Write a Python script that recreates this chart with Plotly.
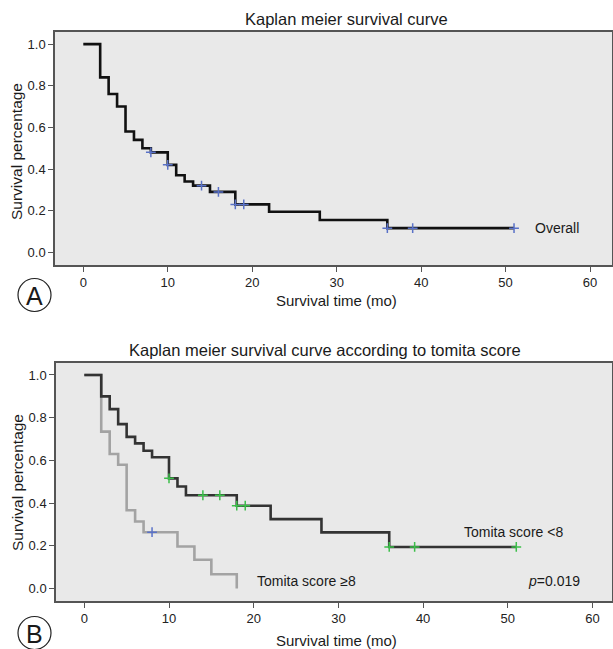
import plotly.graph_objects as go

# ---------------- data ----------------
overall_t = [0, 2, 3, 4, 5, 6, 7, 8, 10, 11, 12, 13, 15, 18, 22, 28, 36, 51]
overall_s = [1.0, 0.84, 0.76, 0.70, 0.58, 0.54, 0.50, 0.48, 0.42, 0.37, 0.34, 0.32, 0.29, 0.23, 0.195, 0.155, 0.116, 0.116]
overall_cens = [8, 10, 14, 16, 18, 19, 36, 39, 51]

low_t = [0, 2, 3, 4, 5, 6, 7, 8, 10, 11, 12, 18, 22, 28, 36, 51]
low_s = [1.0, 0.90, 0.84, 0.77, 0.71, 0.68, 0.645, 0.615, 0.516, 0.478, 0.437, 0.388, 0.325, 0.263, 0.195, 0.195]
low_cens = [10, 14, 16, 18, 19, 36, 39, 51]

high_t = [0, 2, 3, 4, 5, 6, 7, 11, 13, 15, 18]
high_s = [1.0, 0.735, 0.63, 0.58, 0.367, 0.314, 0.264, 0.197, 0.135, 0.067, 0.0]
high_cens = [8]

x_ticks = [0, 10, 20, 30, 40, 50, 60]
y_ticks = [0.0, 0.2, 0.4, 0.6, 0.8, 1.0]
y_tick_text = ["0.0", "0.2", "0.4", "0.6", "0.8", "1.0"]


def step_value(ts, ss, t):
    v = ss[0]
    for ti, si in zip(ts, ss):
        if ti <= t:
            v = si
    return v


W, H = 613, 649
FONT = "Liberation Sans, Arial, sans-serif"
BLUE = "#5a72c8"
GREEN = "#3cbf4a"

fig = go.Figure()

# Panel A
fig.add_trace(go.Scatter(x=overall_t, y=overall_s, mode="lines", line_shape="hv",
                         line=dict(color="#111111", width=2.6), xaxis="x", yaxis="y",
                         showlegend=False, hoverinfo="skip"))
fig.add_trace(go.Scatter(x=overall_cens, y=[step_value(overall_t, overall_s, t) for t in overall_cens],
                         mode="markers", marker=dict(symbol="cross-thin", size=7,
                                                     line=dict(color=BLUE, width=1.5)),
                         xaxis="x", yaxis="y", showlegend=False))

# Panel B
fig.add_trace(go.Scatter(x=high_t, y=high_s, mode="lines", line_shape="hv",
                         line=dict(color="#a3a3a3", width=2.6), xaxis="x2", yaxis="y2",
                         showlegend=False))
fig.add_trace(go.Scatter(x=low_t, y=low_s, mode="lines", line_shape="hv",
                         line=dict(color="#333333", width=2.6), xaxis="x2", yaxis="y2",
                         showlegend=False))
fig.add_trace(go.Scatter(x=low_cens, y=[step_value(low_t, low_s, t) for t in low_cens],
                         mode="markers", marker=dict(symbol="cross-thin", size=7,
                                                     line=dict(color=GREEN, width=1.5)),
                         xaxis="x2", yaxis="y2", showlegend=False))
fig.add_trace(go.Scatter(x=high_cens, y=[step_value(high_t, high_s, t) for t in high_cens],
                         mode="markers", marker=dict(symbol="cross-thin", size=7,
                                                     line=dict(color=BLUE, width=1.5)),
                         xaxis="x2", yaxis="y2", showlegend=False))

axis_common = dict(showgrid=False, zeroline=False, showline=True, mirror=True,
                   linecolor="#555555", linewidth=1.5, ticks="outside", ticklen=5,
                   tickwidth=1.3, tickcolor="#555555",
                   tickfont=dict(family=FONT, size=13, color="#222222"))

fig.update_layout(
    width=W, height=H,
    margin=dict(l=0, r=0, t=0, b=0),
    paper_bgcolor="white",
    plot_bgcolor="#e9e9e9",
    xaxis=dict(axis_common, domain=[55 / W, 612 / W], range=[-3.35, 62.6],
               tickvals=x_ticks, anchor="y"),
    yaxis=dict(axis_common, domain=[1 - 265 / H, 1 - 32 / H], range=[-0.061, 1.058],
               tickvals=y_ticks, ticktext=y_tick_text, anchor="x"),
    xaxis2=dict(axis_common, domain=[56 / W, 612 / W], range=[-3.34, 62.3],
                tickvals=x_ticks, anchor="y2"),
    yaxis2=dict(axis_common, domain=[1 - 601 / H, 1 - 363 / H], range=[-0.058, 1.056],
                tickvals=y_ticks, ticktext=y_tick_text, anchor="x2"),
)

def ann(text, x, y, size=13, xanchor="center", textangle=0, xref="paper", yref="paper"):
    fig.add_annotation(text=text, x=x, y=y, xref=xref, yref=yref, showarrow=False,
                       xanchor=xanchor, yanchor="middle", textangle=textangle,
                       font=dict(family=FONT, size=size, color="#1a1a1a"))

# titles
ann("Kaplan meier survival curve", 346 / W, 1 - 19 / H, size=16.5)
ann("Kaplan meier survival curve according to tomita score", 325 / W, 1 - 350 / H, size=16.5)
# axis titles
ann("Survival time (mo)", 336 / W, 1 - 300 / H, size=15)
ann("Survival time (mo)", 336 / W, 1 - 640 / H, size=15)
ann("Survival percentage", 17 / W, 1 - 152 / H, size=15.5, textangle=-90)
ann("Survival percentage", 17 / W, 1 - 483 / H, size=15.5, textangle=-90)

# in-plot labels
ann("Overall", 53.2, 0.115, size=14, xanchor="left", xref="x", yref="y")
ann("Tomita score <8", 44.6, 0.264, size=14, xanchor="left", xref="x2", yref="y2")
ann("Tomita score ≥8", 20.2, 0.036, size=14, xanchor="left", xref="x2", yref="y2")
ann("<i>p</i>=0.019", 52.1, 0.036, size=14, xanchor="left", xref="x2", yref="y2")

# panel letters in circles
for letter, cy in [("A", 295), ("B", 633)]:
    r = 16.5
    cx = 34.5
    fig.add_shape(type="circle", xref="paper", yref="paper",
                  x0=(cx - r) / W, x1=(cx + r) / W, y0=1 - (cy + r) / H, y1=1 - (cy - r) / H,
                  line=dict(color="#222222", width=1.2))
    ann(letter, cx / W, 1 - (cy + 1) / H, size=25)

fig.write_html("out.html", config={"displayModeBar": False},
               post_script="document.body.style.margin='0';document.body.style.overflow='hidden';")
